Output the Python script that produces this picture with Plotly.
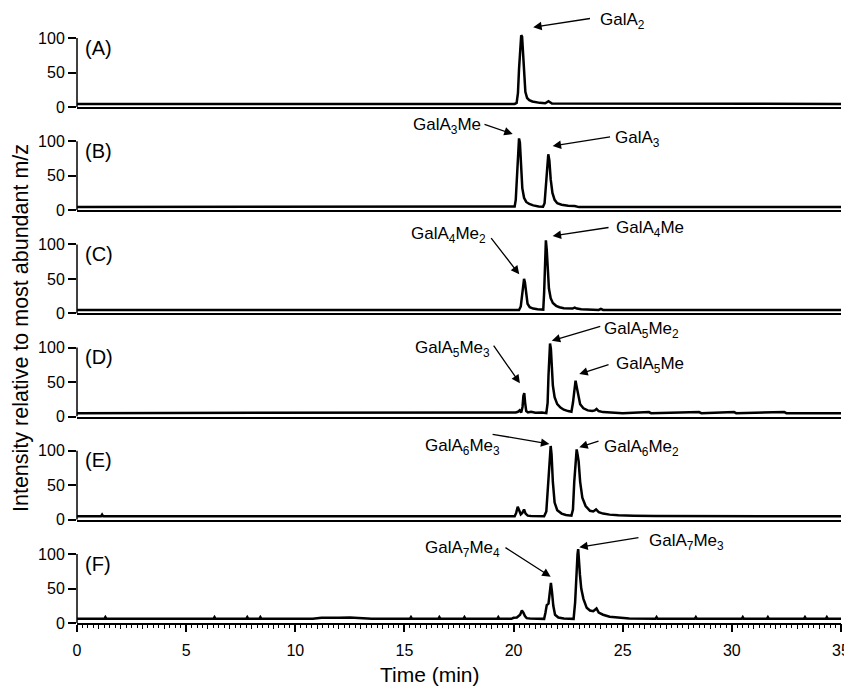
import plotly.graph_objects as go

# ---------------- data ----------------
time_A = [0, 20.05, 20.14, 20.2, 20.25, 20.3, 20.35, 20.39, 20.43, 20.48, 20.54, 20.62, 20.72, 20.86, 21.0, 21.2, 21.45, 21.53, 21.6, 21.67, 21.76, 35]
int_A = [4.5, 4.5, 6, 20, 55, 92, 104, 102, 80, 45, 22, 13, 10, 8, 7, 6, 5.5, 7, 8.5, 7, 5, 4.5]

time_B = [0, 19.95, 20.05, 20.1, 20.15, 20.2, 20.25, 20.29, 20.34, 20.4, 20.48, 20.58, 20.72, 20.9, 21.15, 21.35, 21.42, 21.48, 21.54, 21.59, 21.64, 21.7, 21.78, 21.88, 22.0, 22.2, 22.5, 22.8, 23.0, 35]
int_B = [4.5, 4.5, 5.5, 15, 50, 90, 104, 98, 65, 32, 18, 12, 9, 7, 5.5, 5, 10, 35, 65, 81, 72, 45, 25, 15, 10, 8, 6.5, 6, 4.5, 4.5]

time_C = [0, 20.25, 20.33, 20.39, 20.44, 20.48, 20.52, 20.57, 20.64, 20.74, 20.9, 21.1, 21.3, 21.36, 21.4, 21.44, 21.48, 21.52, 21.56, 21.62, 21.7, 21.8, 21.95, 22.1, 22.3, 22.55, 22.7, 22.8, 22.9, 23.1, 23.5, 23.9, 24.0, 24.1, 35]
int_C = [5, 5, 10, 30, 46, 50, 45, 28, 14, 9, 7, 6, 5, 5.5, 30, 80, 106, 92, 62, 36, 22, 15, 11, 9, 7.5, 6.5, 7, 8.5, 7, 6, 5.5, 5, 6.5, 5, 5]

time_D = [0, 19.9, 20.1, 20.2, 20.28, 20.35, 20.41, 20.45, 20.49, 20.53, 20.58, 20.66, 20.8, 21.0, 21.3, 21.5, 21.56, 21.6, 21.64, 21.67, 21.71, 21.75, 21.8, 21.88, 22.0, 22.15, 22.3, 22.5, 22.65, 22.72, 22.78, 22.84, 22.9, 22.97, 23.05, 23.2, 23.4, 23.6, 23.72, 23.8, 23.9, 24.1, 24.5, 25.0, 26.2, 26.3, 28.5, 28.6, 30.1, 30.2, 32.4, 32.5, 35]
int_D = [5, 5, 6, 7, 9, 6, 14, 30, 34, 20, 8, 6, 7, 5.5, 6, 5, 20, 60, 95, 106, 98, 75, 45, 28, 18, 13, 10, 8, 7, 20, 40, 52, 42, 28, 18, 12, 9, 8, 9, 11, 8, 6.5, 6, 5, 6.5, 5, 6.5, 5, 6.5, 5, 6.5, 5, 5]

time_E = [0, 1.1, 1.15, 1.2, 20.05, 20.12, 20.19, 20.26, 20.33, 20.4, 20.48, 20.55, 20.65, 20.8, 21.0, 21.4, 21.5, 21.58, 21.64, 21.7, 21.74, 21.8, 21.88, 22.0, 22.2, 22.4, 22.65, 22.72, 22.78, 22.84, 22.89, 22.93, 22.98, 23.05, 23.15, 23.3, 23.5, 23.65, 23.78, 23.9, 24.1, 24.4, 24.8, 25.5, 26.5, 35]
int_E = [5, 5, 7.5, 5, 5, 10, 19, 12, 8, 10, 15, 9, 6, 5.5, 5, 5, 12, 50, 90, 107, 95, 55, 25, 14, 9, 7, 6, 15, 55, 92, 102, 95, 85, 55, 32, 20, 13, 12, 15, 11, 9, 7.5, 6.5, 6, 5.5, 5]

time_F = [0, 1.25, 1.3, 1.35, 6.25, 6.3, 6.35, 7.75, 7.8, 7.85,
          8.35, 8.4, 8.45, 10.8, 11.2, 11.6, 12.0, 12.5, 13.0, 13.5,
          15.25, 15.3, 15.35, 16.55, 16.6, 16.65, 17.7, 17.75, 17.8, 19.25,
          19.3, 19.35, 19.9, 20.0, 20.15, 20.3, 20.38, 20.45, 20.52, 20.6,
          20.75, 21.0, 21.4, 21.46, 21.52, 21.6, 21.66, 21.71, 21.76, 21.82,
          21.9, 22.05, 22.3, 22.6, 22.75, 22.82, 22.88, 22.93, 22.96, 23.0,
          23.04, 23.1, 23.2, 23.35, 23.5, 23.65, 23.8, 23.9, 24.1, 24.4,
          24.8, 25.3, 26.5, 26.55, 26.6, 28.3, 28.35, 28.4, 30.45, 30.5,
          30.55, 31.6, 31.65, 31.7, 33.3, 33.35, 33.4, 34.3, 34.35, 34.4,
          35]
int_F = [6, 6, 8.5, 6, 6, 8.5, 6, 6, 8.5, 6,
         6, 8.5, 6, 6, 7.5, 8, 7.5, 8, 7, 6,
         6, 8.5, 6, 6, 8.5, 6, 6, 8.5, 6, 6,
         8.5, 6, 6, 7.5, 8, 12, 18, 15, 10, 7,
         6.5, 6, 6, 15, 26, 28, 50, 58, 45, 25,
         12, 8, 6.5, 6, 6, 30, 80, 100, 107, 82,
         70, 50, 35, 22, 18, 17, 21, 15, 12, 9,
         7.5, 6.5, 6, 8.5, 6, 6, 8.5, 6, 6, 8.5,
         6, 6, 8.5, 6, 6, 8.5, 6, 6, 8.5, 6,
         6]

panel_labels = ["(A)", "(B)", "(C)", "(D)", "(E)", "(F)"]
y_tick_values = [0, 50, 100]
x_tick_values = [0, 5, 10, 15, 20, 25, 30, 35]
x_tick_labels = ["0", "5", "10", "15", "20", "25", "30", "35"]

# peak labels: (panel index, text, head time, head intensity, tail time, tail intensity, text time, text intensity)
peak_labels = [
    (0, "GalA<sub>2</sub>", 20.90, 115.5, 23.57, 128.6, 25.01, 124.6),
    (1, "GalA<sub>3</sub>Me", 19.96, 110.4, 18.60, 125.0, 16.94, 122.5),
    (1, "GalA<sub>3</sub>", 21.79, 93.0, 24.49, 106.5, 25.70, 103.2),
    (2, "GalA<sub>4</sub>Me<sub>2</sub>", 20.26, 56.7, 18.92, 111.2, 17.00, 113.6),
    (2, "GalA<sub>4</sub>Me", 21.79, 112.2, 24.42, 124.8, 26.23, 122.5),
    (3, "GalA<sub>5</sub>Me<sub>2</sub>", 21.75, 110.0, 24.04, 131.3, 25.88, 125.5),
    (3, "GalA<sub>5</sub>Me<sub>3</sub>", 20.29, 48.3, 19.04, 105.2, 17.18, 98.0),
    (3, "GalA<sub>5</sub>Me", 23.01, 61.7, 24.42, 76.2, 26.27, 74.8),
    (4, "GalA<sub>6</sub>Me<sub>3</sub>", 21.64, 109.9, 18.97, 124.3, 17.68, 106.2),
    (4, "GalA<sub>6</sub>Me<sub>2</sub>", 23.01, 105.1, 23.96, 114.6, 25.88, 104.1),
    (5, "GalA<sub>7</sub>Me<sub>4</sub>", 21.70, 67.1, 19.56, 110.6, 17.68, 107.2),
    (5, "GalA<sub>7</sub>Me<sub>3</sub>", 23.01, 109.7, 25.79, 124.2, 27.90, 117.4),
]

series = [(time_A, int_A), (time_B, int_B), (time_C, int_C),
          (time_D, int_D), (time_E, int_E), (time_F, int_F)]
for t, v in series:
    assert len(t) == len(v)

# ---------------- layout geometry ----------------
# the page body has an 8px margin, so the figure is drawn 8px smaller
# and its margins are reduced accordingly to land on the reference layout
PAGE_OFF = 8
W, H = 852 - PAGE_OFF, 686 - PAGE_OFF
ML, MR, MT, MB = 77 - PAGE_OFF, 11, 30 - PAGE_OFF, 63
PLOT_W = W - ML - MR
PLOT_H = H - MT - MB
X_MAX = 35
PX_PER_MIN = PLOT_W / X_MAX
PANEL_STEP = 103.2          # px between panel baselines
PX_PER_UNIT = 0.69
DOM_H = 77.0                # px height of each panel
Y_MAX = DOM_H / PX_PER_UNIT
FONT = "Arial, 'Liberation Sans', sans-serif"

domains = []
for i in range(6):
    bottom_from_top = DOM_H + i * PANEL_STEP
    y0 = (PLOT_H - bottom_from_top) / PLOT_H
    y1 = min(1.0, y0 + DOM_H / PLOT_H)
    domains.append((max(0.0, y0), y1))


def ax_id(i):
    return "" if i == 0 else str(i + 1)


def paper_x(t):
    return t / X_MAX


def paper_y(i, v):
    y0, y1 = domains[i]
    return y0 + (v / Y_MAX) * (y1 - y0)


def ref_px_to_paper_x(px):
    return (px - PAGE_OFF - ML) / PLOT_W


def ref_px_to_paper_y(py):
    return (MT + PLOT_H - (py - PAGE_OFF)) / PLOT_H


fig = go.Figure()
for i, (t, v) in enumerate(series):
    fig.add_trace(go.Scatter(
        x=t, y=v, mode="lines",
        line=dict(color="black", width=2.5),
        xaxis="x" + ax_id(i), yaxis="y" + ax_id(i),
        showlegend=False, hoverinfo="skip"))

# invisible trace for the 1-minute tick overlay axis
fig.add_trace(go.Scatter(x=[0, X_MAX], y=[None, None], xaxis="x7", yaxis="y6",
                         showlegend=False, hoverinfo="skip"))

layout = dict(
    width=W, height=H,
    margin=dict(l=ML, r=MR, t=MT, b=MB, autoexpand=False),
    paper_bgcolor="white", plot_bgcolor="white",
    font=dict(family=FONT, color="black"),
    showlegend=False,
)

shapes = []
annotations = []
for i in range(6):
    last = (i == 5)
    xa = dict(
        domain=[0, 1], range=[0, X_MAX], anchor="y" + ax_id(i),
        showline=True, linecolor="black", linewidth=1.5,
        showgrid=False, zeroline=False, fixedrange=True, automargin=False,
    )
    if last:
        xa.update(
            tickvals=x_tick_values, ticktext=x_tick_labels,
            ticks="outside", ticklen=7, tickwidth=1.5, tickcolor="black",
            showticklabels=True, ticklabelstandoff=5,
            tickfont=dict(size=16, family=FONT, color="black"),
            minor=dict(dtick=0.25, tick0=0, ticks="outside", ticklen=3.5,
                       tickwidth=1, tickcolor="black"),
        )
    else:
        xa.update(ticks="", showticklabels=False)
    layout["xaxis" + ax_id(i)] = xa

    layout["yaxis" + ax_id(i)] = dict(
        domain=list(domains[i]), range=[0, Y_MAX], anchor="x" + ax_id(i),
        tickvals=y_tick_values, ticks="outside", ticklen=8, tickwidth=1.5,
        tickcolor="black", showline=False, showgrid=False, zeroline=False,
        tickfont=dict(size=16, family=FONT, color="black"), fixedrange=True,
        automargin=False,
    )
    # y axis line from 0 to 100 only
    shapes.append(dict(type="line", xref="x" + ax_id(i) + " domain", x0=0, x1=0,
                       yref="y" + ax_id(i), y0=0, y1=100,
                       line=dict(color="black", width=1.5)))
    annotations.append(dict(text=panel_labels[i], xref="x" + ax_id(i), yref="y" + ax_id(i),
                            x=0.27, y=86, xanchor="left", yanchor="middle",
                            showarrow=False, font=dict(size=20, family=FONT, color="black")))

layout["xaxis7"] = dict(
    overlaying="x6", anchor="y6", range=[0, X_MAX], tick0=0, dtick=1,
    ticks="outside", ticklen=5, tickwidth=1, tickcolor="black",
    showticklabels=False, showline=False, showgrid=False, zeroline=False,
    automargin=False,
)

for (i, txt, ht, hv, tt, tv, xt, xv) in peak_labels:
    annotations.append(dict(
        text="", xref="paper", yref="paper",
        x=paper_x(ht), y=paper_y(i, hv),
        axref="pixel", ayref="pixel",
        ax=(tt - ht) * PX_PER_MIN, ay=-(tv - hv) * PX_PER_UNIT,
        showarrow=True, arrowhead=2, arrowsize=1.3, arrowwidth=1.3,
        arrowcolor="black", standoff=0, startstandoff=0))
    annotations.append(dict(
        text=txt, xref="paper", yref="paper",
        x=paper_x(xt), y=paper_y(i, xv), xanchor="center", yanchor="middle",
        showarrow=False, font=dict(size=17, family=FONT, color="black")))

# axis titles
annotations.append(dict(text="Time (min)", xref="paper", yref="paper",
                        x=ref_px_to_paper_x(430), y=ref_px_to_paper_y(674),
                        xanchor="center", yanchor="middle", showarrow=False,
                        font=dict(size=21, family=FONT, color="black")))
annotations.append(dict(text="Intensity relative to most abundant m/z",
                        xref="paper", yref="paper",
                        x=ref_px_to_paper_x(21), y=ref_px_to_paper_y(328),
                        xanchor="center", yanchor="middle", textangle=-90,
                        showarrow=False,
                        font=dict(size=21.5, family=FONT, color="black")))

layout["shapes"] = shapes
layout["annotations"] = annotations
fig.update_layout(**layout)

fig.write_html("out.html")
